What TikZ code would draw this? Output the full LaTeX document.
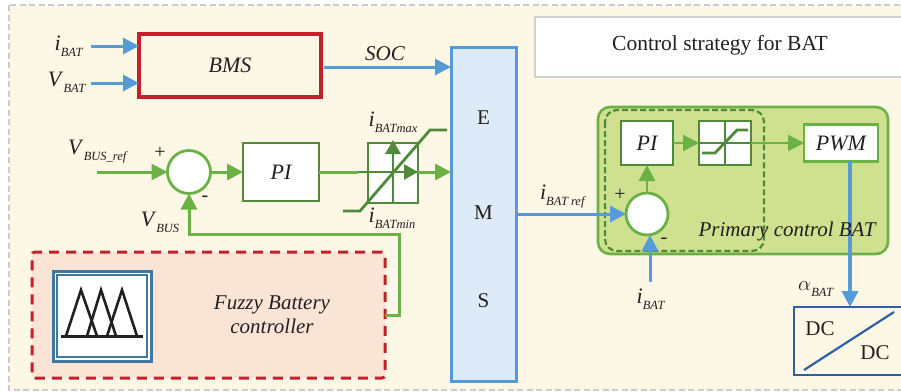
\documentclass[tikz,border=0pt]{standalone}
\usepackage{fontspec}
\setmainfont{Liberation Serif}
\usetikzlibrary{arrows.meta,calc}
\definecolor{cream}{HTML}{FDF7E5}
\definecolor{blueln}{HTML}{559BD7}
\definecolor{bluefill}{HTML}{DDEBF8}
\definecolor{greenln}{HTML}{6CB146}
\definecolor{greendk}{HTML}{4F8A3A}
\definecolor{greenfill}{HTML}{CFE08F}
\definecolor{redln}{HTML}{C4202A}
\definecolor{pinkfill}{HTML}{FAE4D6}
\definecolor{navy}{HTML}{2F5FA5}
\definecolor{steel}{HTML}{41789F}
\definecolor{txt}{HTML}{231F20}
\newcommand\lab[2]{\fontsize{22}{22}\selectfont\textit{#1}\raisebox{-6pt}{\fontsize{12.5}{12.5}\selectfont\textit{#2}}}
\tikzset{
  every node/.style={inner sep=0pt,outer sep=0pt,text=txt},
  bluearrow/.style={draw=blueln,line width=3pt,-{Triangle[length=16pt,width=16pt]}},
  greenarrow/.style={draw=greenln,line width=3pt,-{Triangle[length=16pt,width=16pt]}},
  whitebox/.style={draw=greendk,line width=2.6pt,fill=white},
  sumnode/.style={draw=greenln,line width=2.8pt,fill=white,circle,minimum size=43pt},
  lbl/.style={font=\fontsize{22}{22}\selectfont\itshape},
  sign/.style={font=\fontsize{20}{20}\selectfont},
  satline/.style={draw=greendk,line width=2.8pt},
  plain/.style={font=\fontsize{21}{21}\selectfont},
}
\begin{document}
\begin{tikzpicture}[x=1pt,y=-1pt]
\useasboundingbox (0,0) rectangle (901,391);
% background
\fill[white] (0,0) rectangle (901,391);
\draw[draw=black!20,line width=1.6pt,dash pattern=on 6pt off 3.5pt,fill=cream] (9,5) rectangle (910,390);
\node[draw=black!18,line width=2pt,fill=white,minimum width=380pt,minimum height=60pt,anchor=north west] (title) at (535,17) {};
\node[plain,font=\fontsize{21.5}{21.5}\selectfont] (titletext) at (720,45) {Control strategy for BAT};
% EMS
\node[draw=blueln,line width=3pt,fill=bluefill,minimum width=65pt,minimum height=334pt,anchor=north west] (ems) at (451,47) {};
\node[plain] (e) at (483.5,118) {E};
\node[plain] (m) at (483.5,213) {M};
\node[plain] (s) at (483.5,301) {S};
% BMS
\node[draw=redln,line width=3.4pt,fill=cream,minimum width=182pt,minimum height=63pt,lbl] (bms) at (230,65.5) {BMS};
\coordinate (ib0) at (91,46);
\coordinate (vb0) at (91,83);
\coordinate (soc0) at (324,67);
\draw[bluearrow] (ib0) -- (ib0 -| bms.west);
\draw[bluearrow] (vb0) -- (vb0 -| bms.west);
\draw[bluearrow] (soc0) -- (soc0 -| ems.west);
\node (libat) at (69,46) {\lab{i}{BAT}};
\node (lvbat) at (67,82) {\lab{V}{BAT}};
\node[lbl,font=\fontsize{21}{21}\selectfont\itshape] (lsoc) at (385,54) {SOC};
% voltage loop
\node[sumnode] (sum1) at (189,172) {};
\node[whitebox,minimum width=76pt,minimum height=58pt,lbl] (pi1) at (281,172) {PI};
\node[draw=greendk,line width=2.8pt,fill=white,minimum width=50pt,minimum height=60pt] (sat1) at (393,173) {};
\coordinate (vref) at (97,172);
\coordinate (sleft) at (358,172);
\coordinate (sright) at (418,172);
\coordinate (sout) at (sat1.east |- sright);
\coordinate (sup) at (393,140);
\coordinate (scen) at (393,172);
\draw[greenarrow] (vref) -- (sum1.west);
\draw[greenarrow] (sum1.east) -- (pi1.west);
\draw[draw=greenln,line width=3pt] (pi1.east) -- (sleft);
\draw[greenarrow] (sout) -- (sout -| ems.west);
\draw[satline] (sat1.south) -- (scen);
\draw[satline,-{Triangle[length=14pt,width=15pt]}] (scen) -- (sup);
\draw[satline,-{Triangle[length=14pt,width=15pt]}] (sleft) -- (sright);
\coordinate (d1) at (343,211); \coordinate (d2) at (360,211);
\coordinate (d3) at (430,130); \coordinate (d4) at (447,130);
\draw[satline] (d1) -- (d2) -- (d3) -- (d4);
\node (lvref) at (98,152) {\lab{V}{BUS\_ref}};
\node[sign] (plus1) at (160,153) {+};
\node[sign] (minus1) at (205,199) {-};
\node (lvbus) at (160,222) {\lab{V}{BUS}};
\node (limax) at (393,122) {\lab{i}{BATmax}};
\node (limin) at (392,218) {\lab{i}{BATmin}};
% fuzzy
\node[draw=redln,line width=3pt,dash pattern=on 10pt off 7pt,fill=pinkfill,rounded corners=3pt,minimum width=353pt,minimum height=126pt,anchor=north west] (fuzzy) at (32,252) {};
\node[draw=steel,line width=3pt,fill=white,minimum width=98pt,minimum height=90pt,anchor=north west] (icon) at (53,271) {};
\node[draw=steel,line width=1.6pt,fill=white,minimum width=90pt,minimum height=82pt] (iconin) at (icon.center) {};
\draw[txt,line width=3pt] (61,336) -- (143,336);
\draw[txt,line width=2.6pt] (66,336) -- (81,290) -- (97,336);
\draw[txt,line width=2.6pt] (87,336) -- (101,290) -- (116,336);
\draw[txt,line width=2.6pt] (107,336) -- (122,290) -- (137,336);
\node[font=\fontsize{21}{24}\selectfont\itshape,align=center] (ftext) at (272,315) {Fuzzy Battery\\controller};
\coordinate (fb1) at (399,234);
\draw[greenarrow] (fuzzy.east |- 0,315) -| (fb1) -| (sum1.south);
% primary control
\node[draw=greenln,line width=2.6pt,fill=greenfill,rounded corners=12pt,minimum width=290pt,minimum height=147pt,anchor=north west] (prim) at (598,107) {};
\node[whitebox,minimum width=52pt,minimum height=44pt,lbl] (pi2) at (647,143) {PI};
\node[whitebox,minimum width=52pt,minimum height=44pt] (sat2) at (725,143) {};
\node[draw=greenln,line width=2.6pt,fill=white,minimum width=74pt,minimum height=37pt,lbl] (pwm) at (841,143) {PWM};
\node[sumnode,minimum size=42pt] (sum2) at (647,214) {};
\draw[draw=greendk,line width=2.2pt,dash pattern=on 6pt off 3pt,rounded corners=12pt] (605,110) rectangle (764,251);
\draw[satline] (sat2.north) -- (sat2.south);
\draw[satline] (sat2.west) -- (sat2.east);
\draw[satline] (702,153) -- (715,153) -- (737,130) -- (748,130);
\draw[greenarrow,line width=2.6pt] (sum2.north) -- (pi2.south);
\draw[greenarrow,line width=2.6pt] (pi2.east) -- (sat2.west);
\draw[greenarrow,line width=2.6pt] (sat2.east) -- (pwm.west);
\coordinate (ifb) at (650,282);
\draw[bluearrow] (ems.east |- sum2.west) -- (sum2.west);
\draw[bluearrow] (ifb) -- (ifb |- sum2.south);
\node[sign] (plus2) at (620,195) {+};
\node[sign] (minus2) at (664,241) {-};
\node (libref) at (563,197) {\lab{i}{BAT ref}};
\node (libat2) at (651,299) {\lab{i}{BAT}};
% DC
\node[draw=navy,line width=2.2pt,fill=cream,minimum width=130pt,minimum height=68pt,anchor=north west] (dc) at (794,307) {};
\coordinate (alpha) at (850,161);
\draw[bluearrow,line width=3.4pt] (alpha) -- (alpha |- dc.north);
\node[lbl,font=\fontsize{21}{21}\selectfont\itshape] (lprim) at (787,231) {Primary control BAT};
\node (lalpha) at (816,289) {\lab{$\alpha$}{BAT}};
\coordinate (dg1) at (804,370); \coordinate (dg2) at (894,312);
\draw[navy,line width=2.2pt] (dg1) -- (dg2);
\node[plain] (dc1) at (820,329) {DC};
\node[plain] (dc2) at (875,353) {DC};
\end{tikzpicture}
\end{document}
